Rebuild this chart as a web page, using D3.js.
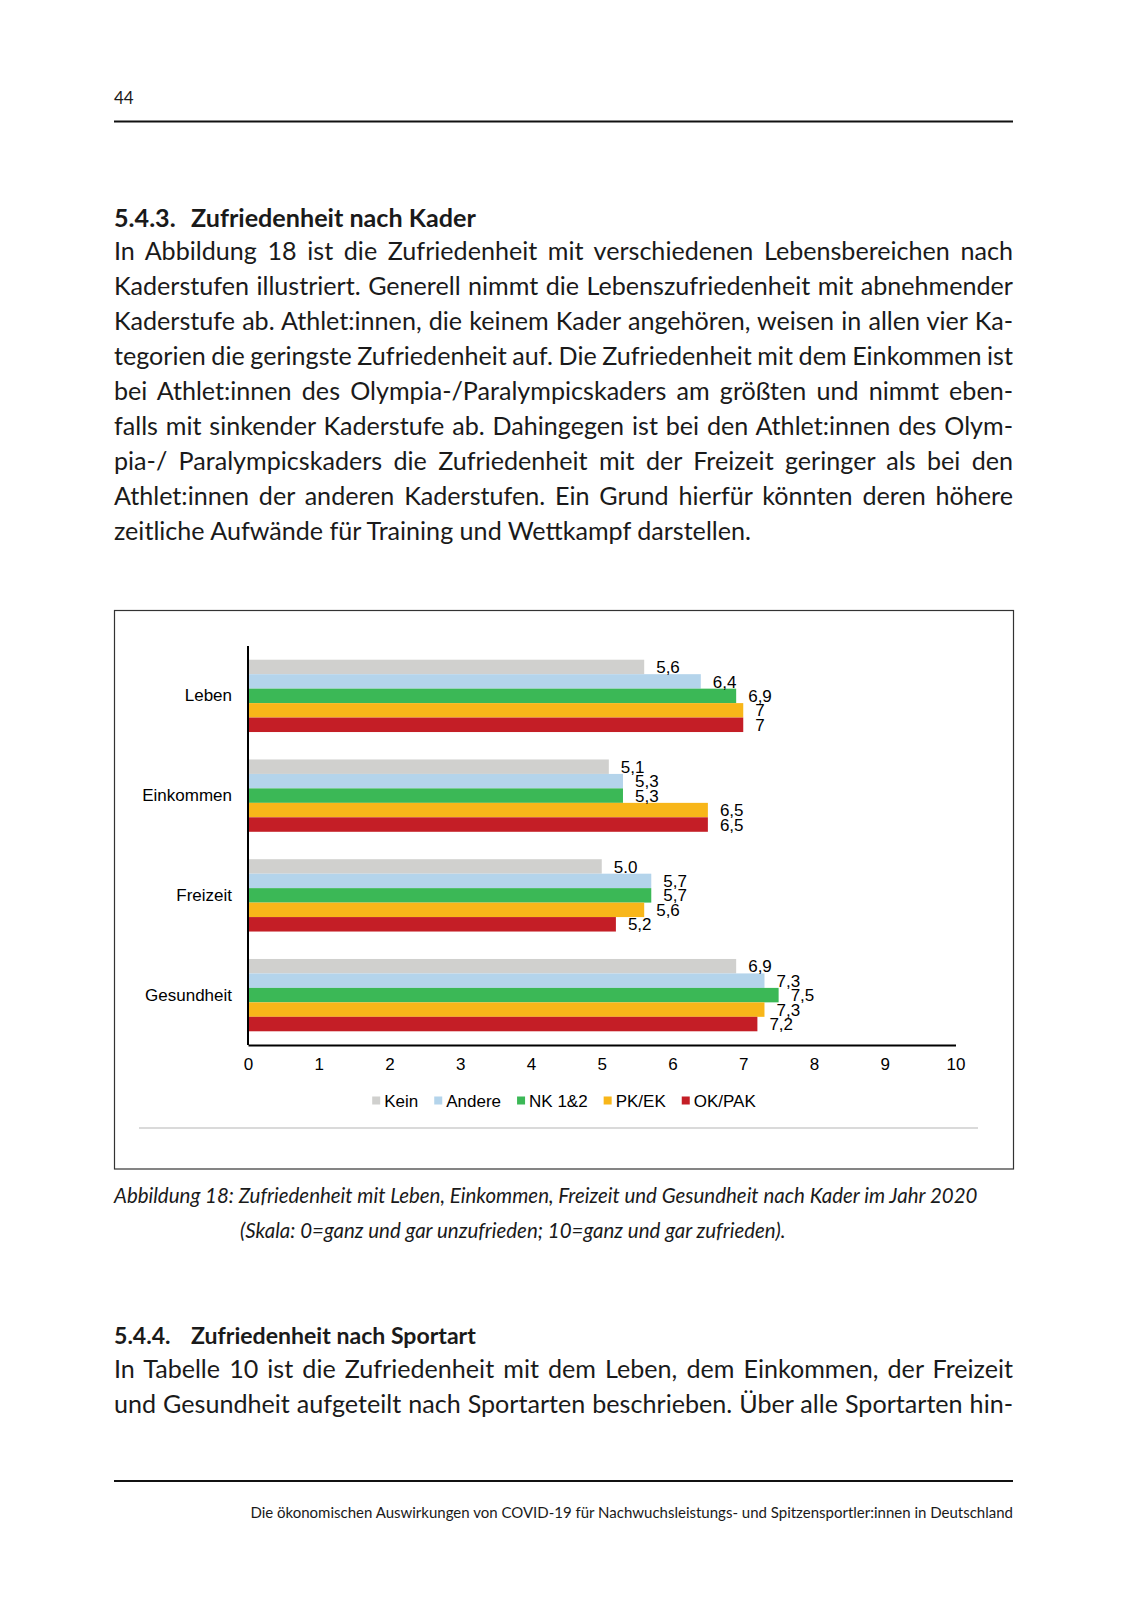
<!DOCTYPE html>
<html lang="de">
<head>
<meta charset="utf-8">
<title>Abbildung 18: Zufriedenheit nach Kader</title>
<script src="https://cdn.jsdelivr.net/npm/d3@7"></script>
<style>
  body { margin: 0; background: #fff; }
  .page-text { font-family: Lato, "Noto Sans", sans-serif; fill: #1a1a1a; }
  .chart-text { font-family: "Liberation Sans", Arial, sans-serif; font-size: 17px; fill: #000; }
</style>
</head>
<body>
<div id="page"></div>
<script>
// chart data
const categories = ["Leben", "Einkommen", "Freizeit", "Gesundheit"];
const series = ["Kein", "Andere", "NK 1&2", "PK/EK", "OK/PAK"];
const colors = ["#d0d0ce", "#b4d4eb", "#3bb856", "#f8b619", "#c41e26"];
const kein   = [5.6, 5.1, 5.0, 6.9];
const andere = [6.4, 5.3, 5.7, 7.3];
const nk12   = [6.9, 5.3, 5.7, 7.5];
const pkek   = [7.0, 6.5, 5.6, 7.3];
const okpak  = [7.0, 6.5, 5.2, 7.2];
const keinLabels   = ["5,6", "5,1", "5.0", "6,9"];
const andereLabels = ["6,4", "5,3", "5,7", "7,3"];
const nk12Labels   = ["6,9", "5,3", "5,7", "7,5"];
const pkekLabels   = ["7", "6,5", "5,6", "7,3"];
const okpakLabels  = ["7", "6,5", "5,2", "7,2"];
const xTicks = [0, 1, 2, 3, 4, 5, 6, 7, 8, 9, 10];

// page text
const para1 = [
  "In Abbildung 18 ist die Zufriedenheit mit verschiedenen Lebensbereichen nach",
  "Kaderstufen illustriert. Generell nimmt die Lebenszufriedenheit mit abnehmender",
  "Kaderstufe ab. Athlet:innen, die keinem Kader angehören, weisen in allen vier Ka-",
  "tegorien die geringste Zufriedenheit auf. Die Zufriedenheit mit dem Einkommen ist",
  "bei Athlet:innen des Olympia-/Paralympicskaders am größten und nimmt eben-",
  "falls mit sinkender Kaderstufe ab. Dahingegen ist bei den Athlet:innen des Olym-",
  "pia-/ Paralympicskaders die Zufriedenheit mit der Freizeit geringer als bei den",
  "Athlet:innen der anderen Kaderstufen. Ein Grund hierfür könnten deren höhere",
  "zeitliche Aufwände für Training und Wettkampf darstellen."
];
const para2 = [
  "In Tabelle 10 ist die Zufriedenheit mit dem Leben, dem Einkommen, der Freizeit",
  "und Gesundheit aufgeteilt nach Sportarten beschrieben. Über alle Sportarten hin-"
];
const caption = [
  "Abbildung 18: Zufriedenheit mit Leben, Einkommen, Freizeit und Gesundheit nach Kader im Jahr 2020",
  "(Skala: 0=ganz und gar unzufrieden; 10=ganz und gar zufrieden)."
];
const footer = "Die ökonomischen Auswirkungen von COVID-19 für Nachwuchsleistungs- und Spitzensportler:innen in Deutschland";

const W = 1128, H = 1601;
const left = 114, right = 1013;

const svg = d3.select("#page").append("svg")
  .attr("width", W).attr("height", H)
  .attr("viewBox", `0 0 ${W} ${H}`);

// set font size so the text hits a target width
function fitSize(sel, target) {
  sel.style("font-size", "20px");
  const w = sel.node().getComputedTextLength();
  const fs = 20 * target / w;
  sel.style("font-size", fs + "px");
  return fs;
}

// header
svg.append("text").attr("class", "page-text")
  .attr("x", left).attr("y", 104)
  .style("font-size", "17px")
  .text("44");
svg.append("line")
  .attr("x1", left).attr("x2", right)
  .attr("y1", 121.5).attr("y2", 121.5)
  .attr("stroke", "#111").attr("stroke-width", 2);

// headings
function heading(num, title, cy) {
  const t = svg.append("text").attr("class", "page-text")
    .attr("x", 191).style("font-weight", "bold").text(title);
  const fs = fitSize(t, 285);
  t.attr("y", cy + fs * 0.36);
  svg.append("text").attr("class", "page-text")
    .attr("x", left).attr("y", cy + fs * 0.36)
    .style("font-weight", "bold").style("font-size", fs + "px")
    .text(num);
}
heading("5.4.3.", "Zufriedenheit nach Kader", 217.5);
heading("5.4.4.", "Zufriedenheit nach Sportart", 1335.5);

// body text, justified line by line
const probe = svg.append("text").attr("class", "page-text").text(para1[para1.length - 1]);
const bodySize = fitSize(probe, 637);
probe.remove();

function paragraph(lines, cy0, lastJustified) {
  lines.forEach((line, i) => {
    const t = svg.append("text").attr("class", "page-text")
      .attr("x", left).attr("y", cy0 + i * 35 + bodySize * 0.3)
      .style("font-size", bodySize + "px")
      .text(line);
    const isLast = i === lines.length - 1;
    if (!isLast || lastJustified) {
      const w = t.node().getComputedTextLength();
      const spaces = line.split(" ").length - 1;
      t.style("word-spacing", ((right - left - w) / spaces) + "px");
    }
  });
}
paragraph(para1, 252.5, false);
paragraph(para2, 1370.5, true);

// caption
const cap1 = svg.append("text").attr("class", "page-text")
  .attr("x", left).style("font-style", "italic").text(caption[0]);
const capSize = fitSize(cap1, 864);
cap1.attr("y", 1196.5 + capSize * 0.32);
svg.append("text").attr("class", "page-text")
  .attr("x", 240).attr("y", 1231.5 + capSize * 0.32)
  .style("font-style", "italic").style("font-size", capSize + "px")
  .text(caption[1]);

// footer
svg.append("line")
  .attr("x1", left).attr("x2", right)
  .attr("y1", 1481).attr("y2", 1481)
  .attr("stroke", "#111").attr("stroke-width", 2);
const foot = svg.append("text").attr("class", "page-text")
  .attr("x", right).attr("text-anchor", "end").text(footer);
const footSize = fitSize(foot, 763);
foot.attr("y", 1513 + footSize * 0.32);

// chart frame
svg.append("rect")
  .attr("x", 114.5).attr("y", 610.5)
  .attr("width", 899).attr("height", 558.5)
  .attr("fill", "none").attr("stroke", "#333").attr("stroke-width", 1.2);

// scales
const x = d3.scaleLinear().domain([0, 10]).range([248, 955.5]);
const y = d3.scaleBand().domain(categories).range([646, 1045])
  .paddingInner(0.275).paddingOuter(0.1375);
const ySub = d3.scaleBand().domain(series).range([0, y.bandwidth()]);

const values = [kein, andere, nk12, pkek, okpak];
const labels = [keinLabels, andereLabels, nk12Labels, pkekLabels, okpakLabels];

const rows = [];
categories.forEach((c, ci) => {
  series.forEach((s, si) => {
    rows.push({ cat: c, ser: s, v: values[si][ci], label: labels[si][ci], color: colors[si] });
  });
});

const g = svg.append("g");

g.selectAll("rect.bar").data(rows).join("rect")
  .attr("class", "bar")
  .attr("x", x(0))
  .attr("y", d => y(d.cat) + ySub(d.ser))
  .attr("width", d => x(d.v) - x(0))
  .attr("height", ySub.bandwidth())
  .attr("fill", d => d.color);

g.selectAll("text.val").data(rows).join("text")
  .attr("class", "val chart-text")
  .attr("x", d => x(d.v) + 12)
  .attr("y", d => y(d.cat) + ySub(d.ser) + ySub.bandwidth() / 2)
  .attr("dy", "0.36em")
  .text(d => d.label);

// axes
const xAxis = d3.axisBottom(x).tickValues(xTicks).tickSize(0).tickPadding(13);
const ax = g.append("g").attr("transform", "translate(0,1045)").call(xAxis);
ax.select(".domain").attr("stroke", "#000").attr("stroke-width", 2);
ax.selectAll(".tick text").attr("class", "chart-text").attr("font-size", null).attr("font-family", null);

const yAxis = d3.axisLeft(y).tickSize(0).tickPadding(16);
const ay = g.append("g").attr("transform", `translate(${x(0)},0)`).call(yAxis);
ay.select(".domain").attr("d", `M0,646V1045`).attr("stroke", "#000").attr("stroke-width", 2);
ay.selectAll(".tick text").attr("class", "chart-text").attr("font-size", null).attr("font-family", null);

// legend, centred in the frame
const legend = g.append("g");
let lx = 0;
series.forEach((s, i) => {
  const item = legend.append("g").attr("transform", `translate(${lx},0)`);
  item.append("rect").attr("x", 0).attr("y", -4).attr("width", 8).attr("height", 8).attr("fill", colors[i]);
  const t = item.append("text").attr("class", "chart-text").attr("x", 12).attr("dy", "0.36em").text(s);
  lx += 12 + t.node().getComputedTextLength() + 16;
});
lx -= 16;
legend.attr("transform", `translate(${564 - lx / 2},1100.5)`);

svg.append("line")
  .attr("x1", 139).attr("x2", 978)
  .attr("y1", 1128).attr("y2", 1128)
  .attr("stroke", "#dadada").attr("stroke-width", 2);
</script>
</body>
</html>
